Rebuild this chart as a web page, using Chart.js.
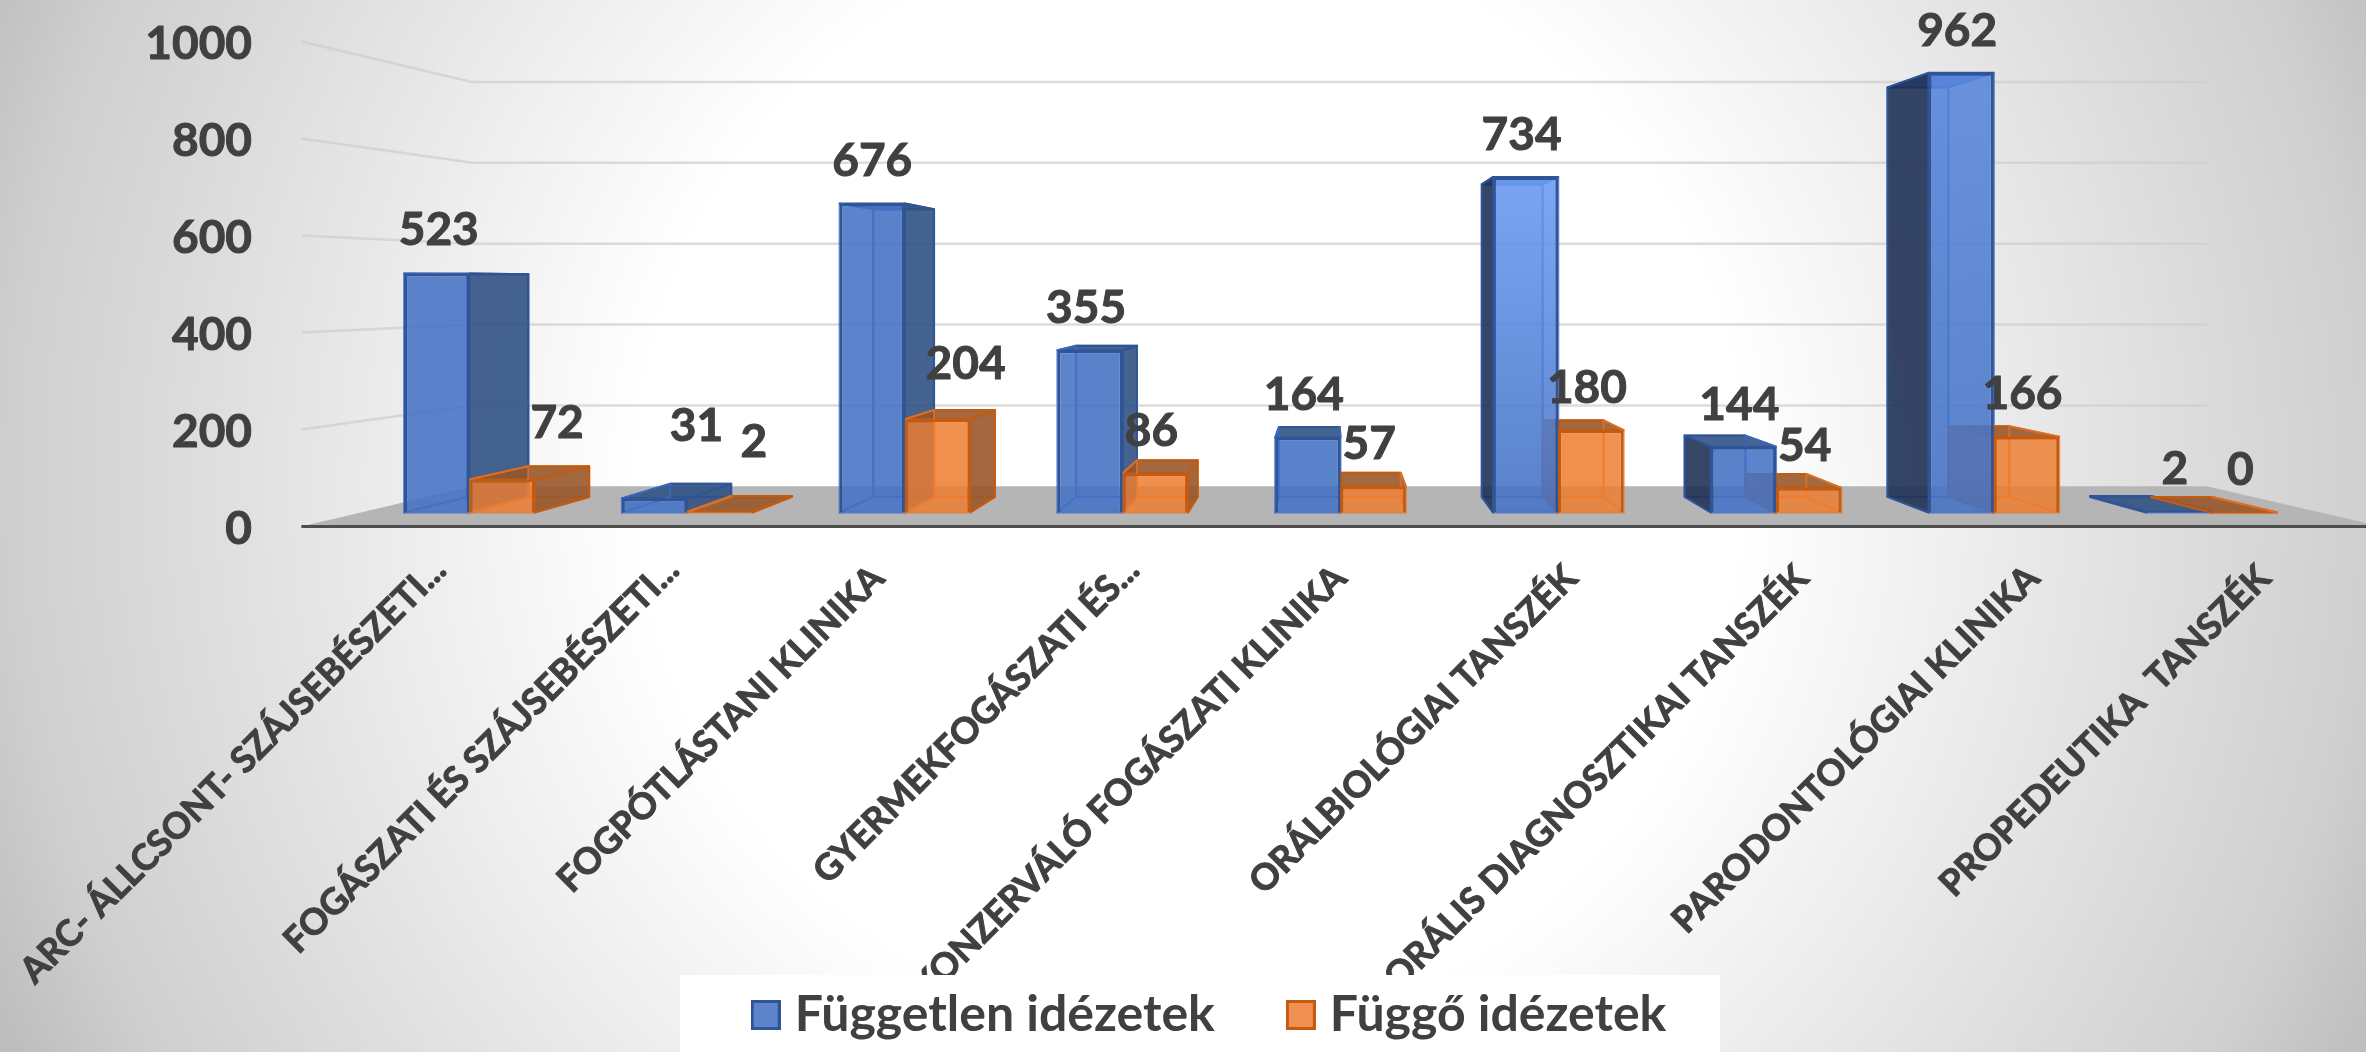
<!DOCTYPE html>
<html>
<head>
<meta charset="utf-8">
<title>Idézetek</title>
<script src="https://cdn.jsdelivr.net/npm/chart.js@4"></script>
<style>
  html, body { margin: 0; padding: 0; background: #fff; }
  canvas { display: block; }
</style>
</head>
<body>
<canvas id="myChart" width="2366" height="1052"></canvas>
<script>
const categories = [
  'ARC- ÁLLCSONT- SZÁJSEBÉSZETI...',
  'FOGÁSZATI ÉS SZÁJSEBÉSZETI...',
  'FOGPÓTLÁSTANI KLINIKA',
  'GYERMEKFOGÁSZATI ÉS...',
  'KONZERVÁLÓ FOGÁSZATI KLINIKA',
  'ORÁLBIOLÓGIAI TANSZÉK',
  'ORÁLIS DIAGNOSZTIKAI TANSZÉK',
  'PARODONTOLÓGIAI KLINIKA',
  'PROPEDEUTIKA  TANSZÉK'
];
const seriesNames = ['Független idézetek', 'Függő idézetek'];
const independent = [523, 31, 676, 355, 164, 734, 144, 962, 2];
const dependent = [72, 2, 204, 86, 57, 180, 54, 166, 0];

// perspektíva: minden a sáv síkjából vetül az eltűnési pont felé
const VP = { x: 1330, y: 285 };
const DEPTH_BAR = 0.9315;
const DEPTH_WALL = 0.885;
const DEPTH_FRONT = 1.061;
const project = (x, y, k) => [VP.x + (x - VP.x) * k, VP.y + (y - VP.y) * k];

const textColor = '#404040';
const styles = [
  { front: 'rgba(68,114,196,0.87)', border: '#2F5597', inner: 'rgba(60,108,200,0.8)', side: 'rgba(47,80,130,0.88)', sideLeft: 'rgba(30,47,82,0.88)', back: 'rgba(68,114,196,0.14)', legend: '#5B84CC' },
  { front: 'rgba(237,125,49,0.84)', border: '#C55A11', inner: 'rgba(232,118,40,0.75)', side: 'rgba(150,85,40,0.88)', sideLeft: 'rgba(178,92,36,0.82)', back: 'rgba(237,125,49,0.14)', legend: '#F08F52' }
];
// a magas kék hasábok teteje világosabb az eredetin
const blueTopTint = { 5: 'rgba(108,155,242,0.88)', 7: 'rgba(88,134,220,0.88)' };
// kézzel elmozdított feliratok az eredeti ábrán
const labelShift = [
  [[6, -1], [46, -30], [4, 0], [0, 0], [0, 0], [0, 0], [0, 0], [0, 0], [0, 0]],
  [[59, -14], [38, -27], [32, -13], [0, 0], [0, 0], [0, 0], [0, 0], [0, 0], [0, 0]]
];
const tickLabelShift = [[24, -8], [26, -8], [0, 0], [24, -8], [0, 0], [0, 0], [0, 0], [0, 0], [0, 0]];

function quad(ctx, pts, fill, stroke, width) {
  ctx.beginPath();
  pts.forEach((p, i) => i ? ctx.lineTo(p[0], p[1]) : ctx.moveTo(p[0], p[1]));
  ctx.closePath();
  if (fill) { ctx.fillStyle = fill; ctx.fill(); }
  if (stroke) { ctx.strokeStyle = stroke; ctx.lineWidth = width || 2; ctx.lineJoin = 'round'; ctx.stroke(); }
}

// félkövérebb szöveg, mint amit a Lato bold ad
function boldText(ctx, text, x, y) {
  ctx.fillText(text, x, y);
  ctx.strokeStyle = textColor;
  ctx.lineWidth = 1;
  ctx.strokeText(text, x, y);
}

function frontColor(c, d) {
  if (c.type === 'dataset' || d !== 0 || !blueTopTint[c.dataIndex]) return styles[d].front;
  const y = c.chart.scales.y;
  const g = c.chart.ctx.createLinearGradient(0, y.getPixelForValue(independent[c.dataIndex]), 0, y.getPixelForValue(0));
  g.addColorStop(0, blueTopTint[c.dataIndex]);
  g.addColorStop(1, styles[0].front);
  return g;
}

// jelmagyarázat négyzete képként: így közelebb kerül a szöveghez, mint a beépített doboz
function legendSwatch(s) {
  const c = document.createElement('canvas');
  c.width = 30;
  c.height = 30;
  const g = c.getContext('2d');
  g.fillStyle = s.legend;
  g.fillRect(0, 0, 30, 30);
  g.strokeStyle = s.border;
  g.lineWidth = 3;
  g.strokeRect(1.5, 1.5, 27, 27);
  return c;
}
const swatches = styles.map(legendSwatch);

// háttér, fal, padló, tengelyfeliratok
const scenePlugin = {
  id: 'scene',
  beforeDraw(chart) {
    const { ctx, width, height, chartArea: area, scales: { x, y } } = chart;
    ctx.save();

    // sugaras háttér
    const bg = ctx.createRadialGradient(1190, 480, 0, 1190, 480, 1310);
    bg.addColorStop(0, '#ffffff');
    bg.addColorStop(0.42, '#ffffff');
    bg.addColorStop(0.9, '#cfcfcf');
    bg.addColorStop(1, '#bdbdbd');
    ctx.fillStyle = bg;
    ctx.fillRect(0, 0, width, height);

    // padló
    const floorY = y.getPixelForValue(0);
    quad(ctx, [
      project(area.left, floorY, DEPTH_WALL),
      project(area.right, floorY, DEPTH_WALL),
      project(area.right, floorY, DEPTH_FRONT),
      project(area.left, floorY, DEPTH_FRONT)
    ], '#b5b5b5');

    // rácsvonalak a falon és a bal oldalon
    y.ticks.forEach(t => {
      if (t.value === 0) return;
      const py = y.getPixelForValue(t.value);
      const a = project(area.left, py, DEPTH_FRONT);
      const b = project(area.left, py, DEPTH_WALL);
      const c = project(area.right, py, DEPTH_WALL);
      ctx.beginPath();
      ctx.moveTo(a[0], a[1]);
      ctx.lineTo(b[0], b[1]);
      ctx.lineTo(c[0], c[1]);
      ctx.strokeStyle = 'rgba(205,205,205,0.7)';
      ctx.lineWidth = 2.5;
      ctx.stroke();
    });

    // padló első éle
    const e1 = project(area.left, floorY, DEPTH_FRONT);
    const e2 = project(area.right, floorY, DEPTH_FRONT);
    ctx.beginPath();
    ctx.moveTo(e1[0], e1[1]);
    ctx.lineTo(e2[0], e2[1]);
    ctx.strokeStyle = '#4d4d4d';
    ctx.lineWidth = 3;
    ctx.stroke();

    // y feliratok
    ctx.fillStyle = textColor;
    ctx.font = 'bold 46px Lato';
    ctx.textAlign = 'right';
    ctx.textBaseline = 'middle';
    y.ticks.forEach(t => {
      const p = project(area.left, y.getPixelForValue(t.value), DEPTH_FRONT);
      boldText(ctx, String(t.value), 252, p[1] + 3);
    });

    // x feliratok 45 fokban
    ctx.font = 'bold 36px Lato';
    categories.forEach((name, i) => {
      const p = project(x.getPixelForValue(i), floorY, DEPTH_FRONT);
      const [dx, dy] = tickLabelShift[i];
      ctx.save();
      ctx.translate(p[0] - 1 + dx, 572 + dy);
      ctx.rotate(-Math.PI / 4);
      boldText(ctx, name, 0, 0);
      ctx.restore();
    });

    // jelmagyarázat fehér háttere
    ctx.fillStyle = '#ffffff';
    ctx.fillRect(680, 975, 1040, height - 975);
    ctx.restore();
  },
  afterLayout(chart) {
    const lg = chart.legend;
    lg.left = 1214 - 700;
    lg.right = 1214 + 700;
    lg.top = 1015 - 25 - 82;
    lg.bottom = lg.top + lg.height;
  }
};

// a hasábok hátsó és oldalsó lapjai, a front lapot a Chart.js rajzolja
const boxPlugin = {
  id: 'boxes',
  beforeDatasetsDraw(chart) {
    const { ctx } = chart;
    ctx.save();
    categories.forEach((_, i) => {
      [0, 1].forEach(d => {
        const s = styles[d];
        const bar = chart.getDatasetMeta(d).data[i];
        const x0 = bar.x - bar.width / 2;
        const x1 = bar.x + bar.width / 2;
        const top = bar.y;
        const base = bar.base;
        const ftl = [x0, top], ftr = [x1, top], fbl = [x0, base], fbr = [x1, base];
        const btl = project(x0, top, DEPTH_BAR), btr = project(x1, top, DEPTH_BAR);
        const bbl = project(x0, base, DEPTH_BAR), bbr = project(x1, base, DEPTH_BAR);

        quad(ctx, [btl, btr, bbr, bbl], s.back, s.inner, 2);
        quad(ctx, [fbl, fbr, bbr, bbl], null, s.inner, 2);
        quad(ctx, [ftl, ftr, btr, btl], top < VP.y ? s.front : s.side, s.border, 2);
        quad(ctx, [ftl, fbl, bbl, btl], x0 > VP.x ? s.sideLeft : null, x0 > VP.x ? s.border : s.inner, 2);
        quad(ctx, [ftr, fbr, bbr, btr], x1 < VP.x ? s.side : null, x1 < VP.x ? s.border : s.inner, 2);
      });
    });
    ctx.restore();
  },
  afterDatasetsDraw(chart) {
    const { ctx } = chart;
    ctx.save();
    ctx.fillStyle = textColor;
    ctx.font = 'bold 46px Lato';
    ctx.textAlign = 'center';
    ctx.textBaseline = 'middle';
    chart.data.datasets.forEach((ds, d) => {
      chart.getDatasetMeta(d).data.forEach((bar, i) => {
        const [dx, dy] = labelShift[d][i];
        boldText(ctx, String(ds.data[i]), bar.x - 4 + dx, bar.y - 42 + dy);
      });
    });
    ctx.restore();
  }
};

new Chart(document.getElementById('myChart'), {
  type: 'bar',
  data: {
    labels: categories,
    datasets: [
      { label: seriesNames[0], data: independent, backgroundColor: c => frontColor(c, 0), borderColor: styles[0].border, borderWidth: 3 },
      { label: seriesNames[1], data: dependent, backgroundColor: c => frontColor(c, 1), borderColor: styles[1].border, borderWidth: 3 }
    ]
  },
  options: {
    responsive: false,
    animation: false,
    events: [],
    layout: { padding: { top: 55.5, right: 45.5, left: 0, bottom: 0 } },
    datasets: { bar: { categoryPercentage: 0.6, barPercentage: 1 } },
    scales: {
      x: {
        grid: { display: false },
        border: { display: false },
        ticks: { display: false },
        afterFit(scale) { scale.height = 1052 - 512.5 - scale.chart.legend.height; }
      },
      y: {
        min: 0,
        max: 1000,
        grid: { display: false },
        border: { display: false },
        ticks: { display: false, stepSize: 200 },
        afterFit(scale) { scale.width = 360.5; }
      }
    },
    plugins: {
      tooltip: { enabled: false },
      legend: {
        position: 'bottom',
        labels: {
          color: textColor,
          font: { family: 'Lato', size: 50, weight: 'bold' },
          usePointStyle: true,
          boxWidth: 8,
          boxHeight: 30,
          padding: 82,
          generateLabels(chart) {
            return Chart.defaults.plugins.legend.labels.generateLabels(chart)
              .map((item, i) => ({ ...item, pointStyle: swatches[i] }));
          }
        }
      }
    }
  },
  plugins: [scenePlugin, boxPlugin]
});
</script>
</body>
</html>
